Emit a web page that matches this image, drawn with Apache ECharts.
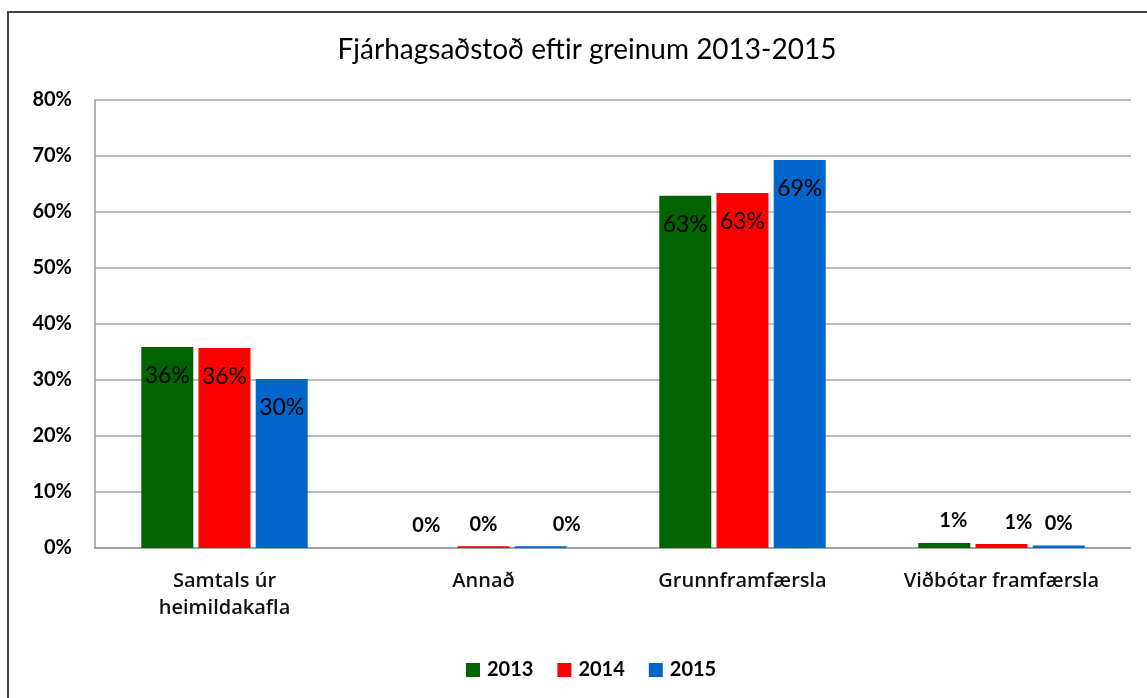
<!DOCTYPE html>
<html>
<head>
<meta charset="utf-8">
<script src="https://cdn.jsdelivr.net/npm/echarts@6/dist/echarts.min.js"></script>
<style>html,body{margin:0;padding:0;background:#fff}#c{width:1147px;height:698px}</style>
</head>
<body>
<div id="c"></div>
<script>
const categories = ['Samtals úr\nheimildakafla', 'Annað', 'Grunnframfærsla', 'Viðbótar framfærsla'];
const years = ['2013', '2014', '2015'];
const values2013 = [35.9, 0, 62.9, 0.9];
const values2014 = [35.7, 0.3, 63.4, 0.7];
const values2015 = [30.2, 0.3, 69.3, 0.45];
const colors = ['#006400', '#FF0000', '#0066CC'];
const yTicks = [0, 10, 20, 30, 40, 50, 60, 70, 80];

const FONT = 'Lato';
const allValues = [values2013, values2014, values2015];

function mkData(vals, si) {
  return vals.map((v, i) => {
    const big = v >= 5;
    const item = { value: v };
    if (big) {
      item.label = { position: 'insideTop', distance: 17, fontSize: 23, fontWeight: 'normal' };
    } else {
      item.label = { position: 'top', distance: 12, fontSize: 20, fontWeight: 'bold' };
      if (i === 1 && si === 2) item.label.offset = [26, 0];
      if (i === 3 && si === 0) item.label.offset = [9, 0];
      if (i === 3 && si === 1) item.label.offset = [17, 0];
    }
    return item;
  });
}

const chart = echarts.init(document.getElementById('c'));
chart.setOption({
  animation: false,
  backgroundColor: '#fff',
  textStyle: { fontFamily: FONT },
  title: {
    text: 'Fjárhagsaðstoð eftir greinum 2013-2015',
    left: 582, top: 31, textAlign: 'center',
    textStyle: { fontFamily: FONT, fontSize: 28, fontWeight: 'normal', color: '#000' }
  },
  legend: {
    data: years,
    left: 461, top: 655,
    itemWidth: 14, itemHeight: 14, itemGap: 24,
    icon: 'rect',
    textStyle: { fontFamily: FONT, fontSize: 20, fontWeight: 'bold', color: '#000', padding: [0, 0, 0, 2] }
  },
  graphic: [{
    type: 'rect', shape: { x: 8, y: 12, width: 1160, height: 720 },
    style: { fill: 'none', stroke: '#444', lineWidth: 2 }, z: 100
  }],
  grid: { left: 95, right: 16, top: 100, bottom: 150, containLabel: false },
  xAxis: {
    type: 'category', data: categories,
    axisLine: { lineStyle: { color: '#999', width: 1.5 } },
    axisTick: { show: false },
    axisLabel: { fontFamily: 'Open Sans', fontSize: 20, fontWeight: 600, color: '#111', margin: 20, lineHeight: 27, interval: 0 }
  },
  yAxis: {
    type: 'value', min: 0, max: 80, interval: 10,
    axisLine: { show: true, lineStyle: { color: '#999', width: 1.5 } },
    splitLine: { lineStyle: { color: '#a6a6a6', width: 1.5 } },
    axisLabel: {
      fontFamily: FONT, fontSize: 20, fontWeight: 'bold', color: '#000', margin: 23,
      formatter: v => yTicks.includes(v) ? v + '%' : ''
    }
  },
  series: years.map((y, si) => ({
    name: y, type: 'bar',
    data: mkData(allValues[si], si),
    barWidth: 52, barGap: '10%',
    itemStyle: { color: colors[si] },
    label: {
      show: true, color: '#000', fontFamily: FONT,
      formatter: p => Math.round(p.value) + '%'
    }
  }))
});
</script>
</body>
</html>
